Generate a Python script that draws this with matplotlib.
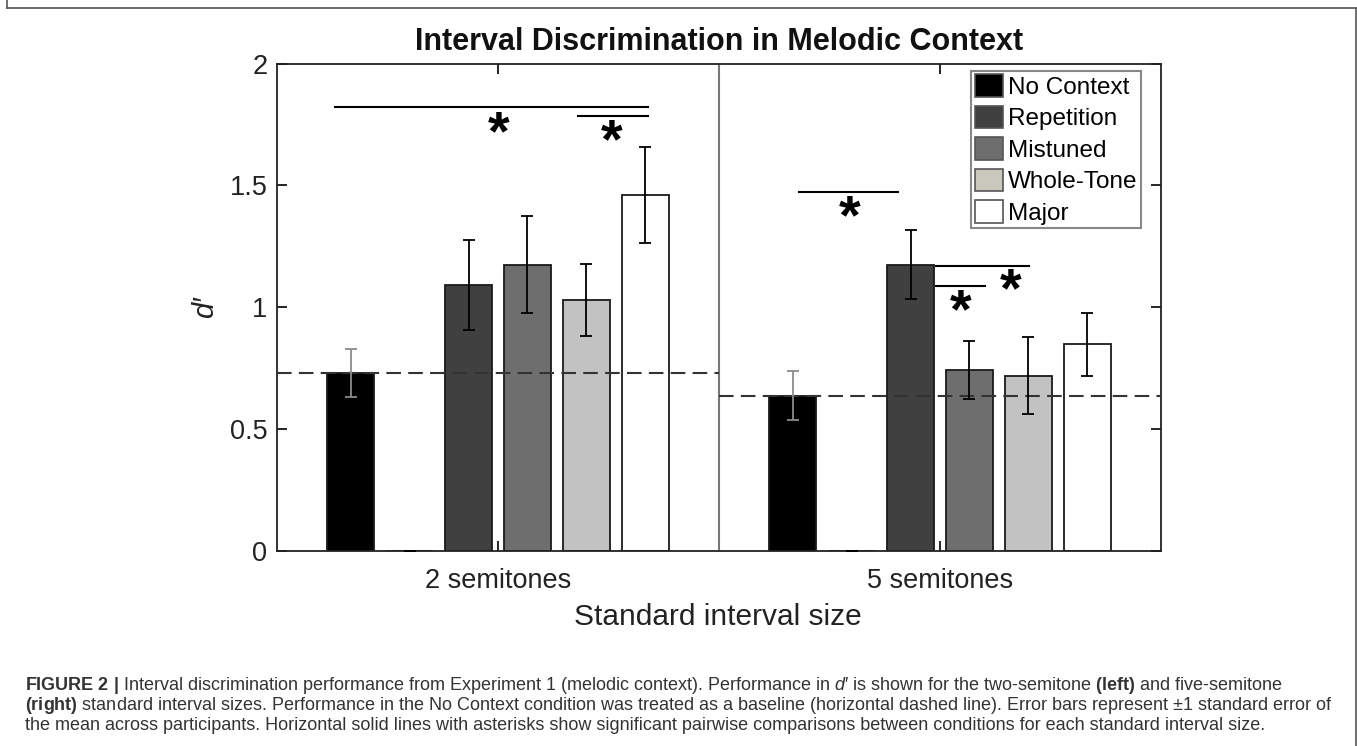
import numpy as np
import matplotlib
matplotlib.use("Agg")
from matplotlib import pyplot as plt
from matplotlib.patches import Patch
from matplotlib.lines import Line2D

plt.rcParams['font.family'] = ['Liberation Sans', 'DejaVu Sans']
plt.rcParams['mathtext.fontset'] = 'custom'
plt.rcParams['mathtext.rm'] = 'Liberation Sans'
plt.rcParams['mathtext.it'] = 'Liberation Sans:italic'
plt.rcParams['mathtext.bf'] = 'Liberation Sans:bold'

# data
groups = ['2 semitones', '5 semitones']
conditions = ['No Context', 'Repetition', 'Mistuned', 'Whole-Tone', 'Major']
# 6 bar slots per group, slot 2 is an empty (zero) bar
means_2 = [0.73, 0.0, 1.09, 1.175, 1.03, 1.46]
se_2 = [0.10, 0.0, 0.185, 0.20, 0.147, 0.198]
means_5 = [0.637, 0.0, 1.175, 0.742, 0.72, 0.848]
se_5 = [0.10, 0.0, 0.142, 0.119, 0.157, 0.13]
baselines = [0.73, 0.637]

# significance brackets (x0, x1, y) and asterisks (x, y)
sig_lines = [(0.632, 1.339, 1.821), (1.181, 1.339, 1.783),
             (1.681, 1.906, 1.474), (1.991, 2.202, 1.169), (1.991, 2.102, 1.086)]
sig_stars = [(1.002, 1.746), (1.257, 1.712), (1.796, 1.400), (2.159, 1.104), (2.046, 1.015)]

bar_colors = ['#000000', '#ffffff', '#404040', '#6e6e6e', '#c2c2c2', '#ffffff']
err_colors = ['#8c8c8c', 'k', 'k', 'k', 'k', 'k']

fig = plt.figure(figsize=(13.57, 7.46), dpi=100)
ax = fig.add_axes([277 / 1357, 1 - 551 / 746, 884 / 1357, 487.5 / 746])

nbar = 6
pitch = 0.8 / nbar
width = 0.8 * pitch
gx = np.arange(1, len(groups) + 1)

for g, (m, s) in enumerate([(means_2, se_2), (means_5, se_5)]):
    for i in range(nbar):
        x = gx[g] + (i - (nbar - 1) / 2) * pitch
        ax.bar(x, m[i], width, color=bar_colors[i], edgecolor='#1a1a1a', linewidth=1.3, zorder=2)
        ax.errorbar(x, m[i], yerr=s[i], color=err_colors[i], capsize=4.5, elinewidth=1.3,
                    capthick=1.3, fmt='none', zorder=4)
    ax.plot([gx[g] - 0.5, gx[g] + 0.5], [baselines[g], baselines[g]], color='#333333',
            linewidth=1.5, dashes=(7, 3.5), zorder=3)

ax.axvline(1.5, color='#777777', linewidth=1.5, zorder=1)

for x0, x1, y in sig_lines:
    ax.plot([x0, x1], [y, y], color='k', linewidth=1.5, zorder=5)
fs_star = 40
for x, y in sig_stars:
    ax.annotate('*', xy=(x, y), xytext=(0, -0.43 * fs_star), textcoords='offset points',
                ha='center', va='baseline', fontsize=fs_star, fontweight='bold', zorder=6)

ax.set_xlim(0.5, 2.5)
ax.set_ylim(0, 2)
ax.set_xticks(gx)
ax.set_xticklabels(groups, fontsize=19.5, color='#222222')
ax.set_yticks([0, 0.5, 1, 1.5, 2])
ax.set_yticklabels(['0', '0.5', '1', '1.5', '2'], fontsize=19.5, color='#222222')
ax.tick_params(direction='in', length=7, width=1.2, top=True, right=True)
ax.tick_params(axis='x', pad=12)
ax.tick_params(axis='y', pad=7)
for sp in ax.spines.values():
    sp.set_linewidth(1.3)
    sp.set_color('#222222')

handles = [Patch(facecolor=c, edgecolor='#555555', linewidth=1.2)
           for c in ['#000000', '#404040', '#6e6e6e', '#cac7bd', '#ffffff']]
leg = ax.legend(handles, conditions, loc='upper right', bbox_to_anchor=(0.977, 0.985),
                borderaxespad=0, fontsize=17.5, handlelength=1.14, handleheight=1.03,
                labelspacing=0.29, handletextpad=0.2, borderpad=0.15, fancybox=False,
                framealpha=1)
leg.get_frame().set_edgecolor('#888888')
leg.get_frame().set_linewidth(1.5)

fig.text(719 / 1357, 1 - 50 / 746, 'Interval Discrimination in Melodic Context',
         ha='center', va='baseline', fontsize=22, fontweight='bold', color='#111111')
fig.text(205 / 1357, 1 - 307 / 746, "d\u2032", rotation=90, ha='center', va='center',
         fontsize=21, style='italic', color='#222222', family=['Liberation Sans', 'DejaVu Sans'])
fig.text(718 / 1357, 1 - 625 / 746, 'Standard interval size', ha='center', va='baseline',
         fontsize=21.5, color='#222222')

cap1 = (r"$\mathbf{FIGURE\ 2\ |}$ Interval discrimination performance from Experiment 1 "
        r"(melodic context). Performance in $d$" "\u2032" r" is shown for the two-semitone "
        r"$\mathbf{(left)}$ and five-semitone")
cap2 = (r"$\mathbf{(right)}$ standard interval sizes. Performance in the No Context condition "
        "was treated as a baseline (horizontal dashed line). Error bars represent \u00b11 "
        "standard error of")
cap3 = ("the mean across participants. Horizontal solid lines with asterisks show significant "
        "pairwise comparisons between conditions for each standard interval size.")
for yb, t in zip([690, 710, 730], [cap1, cap2, cap3]):
    fig.text(25 / 1357, 1 - yb / 746, t, ha='left', va='baseline', fontsize=13, color='#333333')

# outer frame
for xs, ys in [([7, 7], [0, 8]), ([7, 1356], [8, 8]), ([1356, 1356], [8, 746])]:
    fig.add_artist(Line2D([x / 1357 for x in xs], [1 - y / 746 for y in ys],
                          color='#555555', linewidth=1.2))

fig.savefig('out.png', dpi=100)
